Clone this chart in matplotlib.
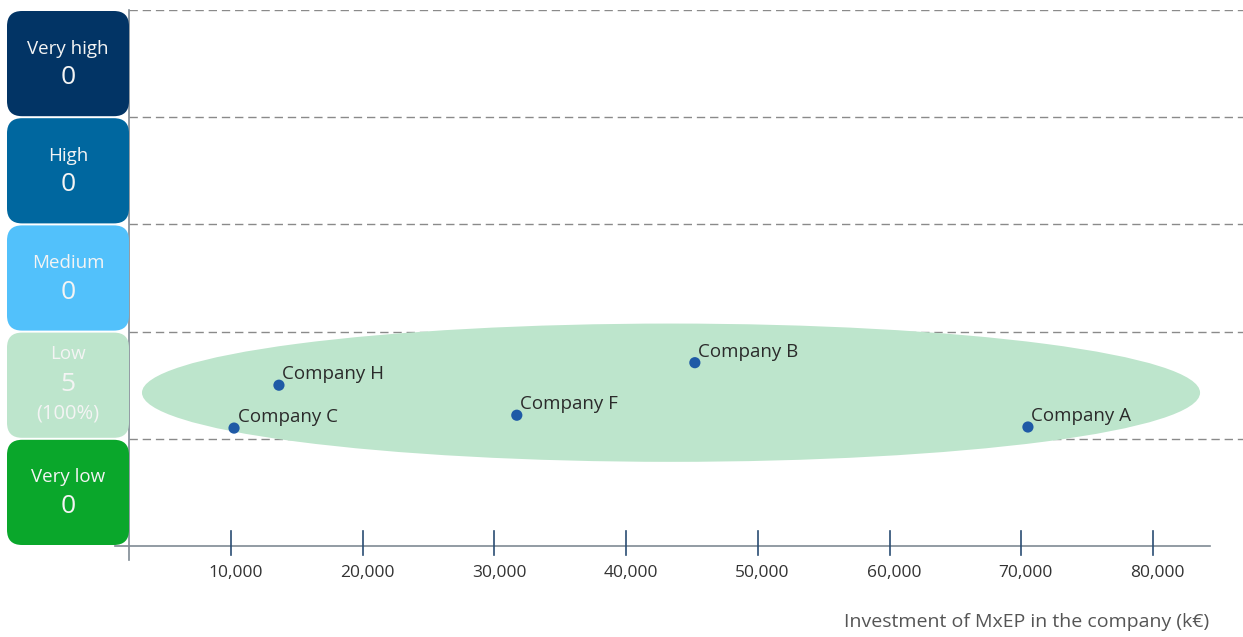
import matplotlib
matplotlib.use("Agg")
import matplotlib.pyplot as plt
from matplotlib.patches import FancyBboxPatch, Ellipse

plt.rcParams['font.family'] = ['Open Sans', 'DejaVu Sans']

# Risk categories (bottom to top) with counts and colours
risk_levels = ["Very low", "Low", "Medium", "High", "Very high"]
risk_counts = ["0", "5", "0", "0", "0"]
risk_shares = ["", "(100%)", "", "", ""]
risk_colors = ["#0aa72b", "#bde5cc", "#52c1fb", "#00679f", "#023465"]

# Companies: investment (k€) and position within the risk scale
companies = ["Company C", "Company H", "Company F", "Company B", "Company A"]
investment = [10230, 13640, 31700, 45220, 70510]
risk_score = [1.10, 1.50, 1.22, 1.71, 1.11]

x_ticks = [10000, 20000, 30000, 40000, 50000, 60000, 70000, 80000]
x_tick_labels = ["10,000", "20,000", "30,000", "40,000", "50,000", "60,000", "70,000", "80,000"]

# Cluster outline around the "Low" group
cluster_center = (43410, 1.43)
cluster_size = (80340, 1.29)

W, H = 1243, 637
fig = plt.figure(figsize=(W / 100, H / 100), dpi=100)

ax_left, ax_bottom, ax_top, ax_right = 129, 546, 10, 1243
ax = fig.add_axes([ax_left / W, (H - ax_bottom) / H,
                   (ax_right - ax_left) / W, (ax_bottom - ax_top) / H])
ax.set_xlim(2255, 86840)
ax.set_ylim(0, 5)
for s in ax.spines.values():
    s.set_visible(False)
ax.set_yticks([])
ax.set_xticks([])

# Dashed band separators
for yv in range(1, 6):
    ax.axhline(yv, color="#8a8a8a", lw=1.0, ls=(0, (6, 3.5)), zorder=1)

# Axes lines
ax.plot([-0.013, 0.970], [0, 0], transform=ax.transAxes, color="#7f8a94",
        lw=1.2, clip_on=False, zorder=3)
ax.plot([0, 0], [-0.027, 1.0], transform=ax.transAxes, color="#7f8a94",
        lw=1.2, clip_on=False, zorder=3)

# Tick marks and labels
for xv, lab in zip(x_ticks, x_tick_labels):
    ax.plot([xv, xv], [-0.017, 0.028], transform=ax.get_xaxis_transform(),
            color="#2a4d73", lw=1.2, clip_on=False, zorder=3)
    ax.text(xv + 350, -0.050, lab, transform=ax.get_xaxis_transform(),
            ha="center", va="center", fontsize=12.5, color="#333333")

ax.text(0.970, -0.141, "Investment of MxEP in the company (k€)",
        transform=ax.transAxes, ha="right", va="center",
        fontsize=14, color="#555555")

# Cluster ellipse
ax.add_patch(Ellipse(cluster_center, cluster_size[0], cluster_size[1],
                     facecolor="#bde5cc", edgecolor="none", zorder=2))

# Company points
ax.scatter(investment, risk_score, s=65, color="#1f5aa6", zorder=4,
           edgecolors="none")
for name, xv, yv in zip(companies, investment, risk_score):
    ax.annotate(name, (xv, yv), xytext=(2.5, 1.5), textcoords="offset points",
                ha="left", va="bottom", fontsize=13.5, color="#2b2b2b", zorder=5)

# Risk level boxes on the left, in pixel units
lax = fig.add_axes([0, (H - ax_bottom) / H, ax_left / W, (ax_bottom - ax_top) / H])
lax.set_xlim(0, ax_left)
lax.set_ylim(0, ax_bottom - ax_top)
lax.axis("off")
band = (ax_bottom - ax_top) / 5
r = 15
for i, (lvl, cnt, share, col) in enumerate(zip(risk_levels, risk_counts,
                                                risk_shares, risk_colors)):
    y0 = i * band + 1.0
    h = band - 2.0
    lax.add_patch(FancyBboxPatch((7 + r, y0 + r), ax_left - 7 - 2 * r, h - 2 * r,
                                 boxstyle=f"round,pad={r}", facecolor=col,
                                 edgecolor="none"))
    cy = y0 + h / 2
    if share:
        lax.text(68, cy + 31, lvl, ha="center", va="center", fontsize=13.5, color="#f4f4f4")
        lax.text(68, cy + 1, cnt, ha="center", va="center", fontsize=19, color="#f4f4f4")
        lax.text(68, cy - 28, share, ha="center", va="center", fontsize=14.5, color="#f4f4f4")
    else:
        lax.text(68, cy + 15, lvl, ha="center", va="center", fontsize=13.5, color="#f4f4f4")
        lax.text(68, cy - 14, cnt, ha="center", va="center", fontsize=19, color="#f4f4f4")

fig.savefig("out.png", dpi=100, facecolor="white")
